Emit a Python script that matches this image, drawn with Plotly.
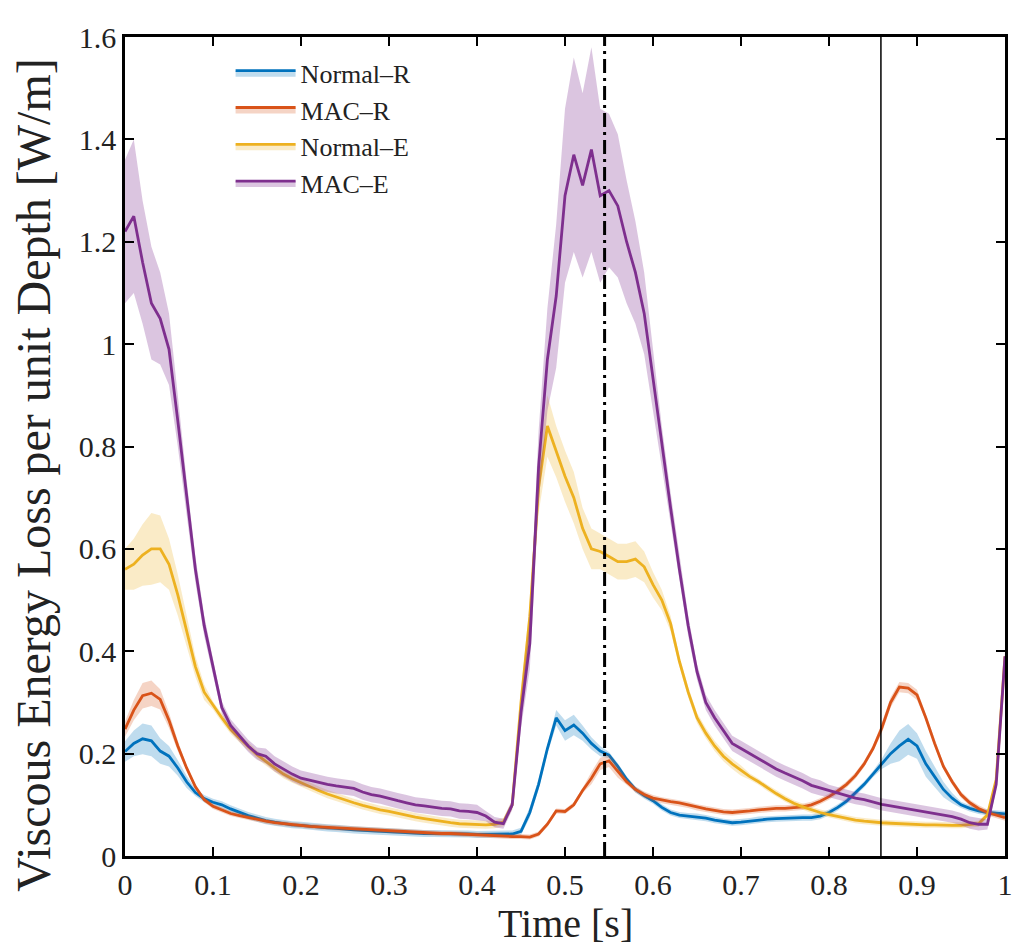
import plotly.graph_objects as go

# ---------------- data ----------------
TIME = [round(i * 0.01, 2) for i in range(101)]

SERIES_NAMES = ["Normal–R", "MAC–R", "Normal–E", "MAC–E"]

NORMAL_R = [
    0.204, 0.220, 0.229, 0.225, 0.205, 0.195, 0.172, 0.145, 0.124, 0.112,
    0.105, 0.100, 0.092, 0.085, 0.079, 0.074, 0.069, 0.066, 0.063, 0.061,
    0.060, 0.058, 0.056, 0.055, 0.054, 0.052, 0.051, 0.050, 0.049, 0.048,
    0.047, 0.046, 0.046, 0.045, 0.044, 0.044, 0.044, 0.043, 0.043, 0.043,
    0.042, 0.042, 0.042, 0.042, 0.043, 0.048, 0.085, 0.140, 0.210, 0.270,
    0.245, 0.256, 0.240, 0.220, 0.205, 0.197, 0.175, 0.150, 0.130, 0.118,
    0.108, 0.095, 0.085, 0.080, 0.078, 0.077, 0.074, 0.070, 0.067, 0.065,
    0.066, 0.068, 0.071, 0.072, 0.073, 0.074, 0.075, 0.075, 0.075, 0.078,
    0.085, 0.095, 0.107, 0.123, 0.140, 0.160, 0.180, 0.200, 0.215, 0.228,
    0.215, 0.180, 0.155, 0.130, 0.113, 0.100, 0.093, 0.088, 0.085, 0.083,
    0.082,
]
NORMAL_R_SD = [
    0.020, 0.025, 0.030, 0.030, 0.025, 0.020, 0.015, 0.012, 0.007, 0.007,
    0.007, 0.007, 0.007, 0.007, 0.007, 0.007, 0.007, 0.007, 0.007, 0.007,
    0.007, 0.007, 0.007, 0.007, 0.007, 0.007, 0.007, 0.007, 0.007, 0.007,
    0.007, 0.007, 0.007, 0.007, 0.007, 0.007, 0.007, 0.007, 0.007, 0.007,
    0.007, 0.007, 0.007, 0.007, 0.007, 0.007, 0.010, 0.010, 0.010, 0.015,
    0.020, 0.020, 0.015, 0.012, 0.010, 0.006, 0.006, 0.006, 0.006, 0.006,
    0.006, 0.006, 0.006, 0.006, 0.006, 0.006, 0.006, 0.006, 0.006, 0.006,
    0.006, 0.006, 0.006, 0.006, 0.006, 0.006, 0.006, 0.006, 0.006, 0.006,
    0.006, 0.006, 0.006, 0.006, 0.006, 0.006, 0.010, 0.020, 0.030, 0.030,
    0.025, 0.025, 0.020, 0.015, 0.010, 0.006, 0.006, 0.006, 0.006, 0.006,
    0.006,
]

MAC_R = [
    0.248, 0.285, 0.313, 0.318, 0.306, 0.265, 0.215, 0.172, 0.135, 0.110,
    0.097, 0.090, 0.083, 0.079, 0.075, 0.071, 0.068, 0.065, 0.063, 0.061,
    0.060, 0.058, 0.057, 0.056, 0.055, 0.054, 0.053, 0.052, 0.051, 0.050,
    0.050, 0.049, 0.048, 0.047, 0.046, 0.045, 0.044, 0.044, 0.043, 0.042,
    0.041, 0.040, 0.039, 0.039, 0.038, 0.038, 0.037, 0.043, 0.062, 0.088,
    0.087, 0.100, 0.128, 0.152, 0.180, 0.186, 0.165, 0.145, 0.130, 0.120,
    0.113, 0.109, 0.106, 0.104, 0.100, 0.095, 0.092, 0.089, 0.086, 0.085,
    0.086, 0.088, 0.090, 0.092, 0.093, 0.093, 0.094, 0.096, 0.100, 0.107,
    0.116, 0.127, 0.140, 0.157, 0.180, 0.210, 0.250, 0.300, 0.330, 0.328,
    0.315, 0.270, 0.220, 0.175, 0.145, 0.120, 0.104, 0.093, 0.085, 0.080,
    0.075,
]
MAC_R_SD = [
    0.015, 0.020, 0.025, 0.025, 0.020, 0.015, 0.010, 0.005, 0.005, 0.005,
    0.005, 0.005, 0.005, 0.005, 0.005, 0.005, 0.005, 0.005, 0.005, 0.005,
    0.005, 0.005, 0.005, 0.005, 0.005, 0.005, 0.005, 0.005, 0.005, 0.005,
    0.005, 0.005, 0.005, 0.005, 0.005, 0.005, 0.005, 0.005, 0.005, 0.005,
    0.005, 0.005, 0.005, 0.005, 0.005, 0.005, 0.005, 0.005, 0.005, 0.005,
    0.005, 0.005, 0.005, 0.012, 0.012, 0.012, 0.012, 0.006, 0.006, 0.006,
    0.006, 0.006, 0.006, 0.006, 0.006, 0.006, 0.006, 0.006, 0.006, 0.006,
    0.006, 0.006, 0.006, 0.006, 0.006, 0.006, 0.006, 0.006, 0.006, 0.006,
    0.006, 0.006, 0.006, 0.006, 0.006, 0.006, 0.010, 0.010, 0.010, 0.010,
    0.010, 0.006, 0.006, 0.006, 0.006, 0.006, 0.006, 0.006, 0.006, 0.006,
    0.006,
]

NORMAL_E = [
    0.560, 0.570, 0.588, 0.600, 0.600, 0.570, 0.510, 0.440, 0.370, 0.320,
    0.294, 0.270, 0.247, 0.230, 0.213, 0.198, 0.185, 0.172, 0.160, 0.151,
    0.143, 0.135, 0.128, 0.121, 0.115, 0.109, 0.104, 0.099, 0.094, 0.090,
    0.087, 0.083, 0.080, 0.076, 0.073, 0.070, 0.067, 0.065, 0.063, 0.062,
    0.061, 0.061, 0.062, 0.066, 0.100, 0.300, 0.467, 0.720, 0.840, 0.790,
    0.742, 0.700, 0.640, 0.600, 0.595, 0.585, 0.575, 0.575, 0.580, 0.565,
    0.530, 0.500, 0.454, 0.380, 0.320, 0.270, 0.240, 0.215, 0.195, 0.180,
    0.167, 0.155, 0.145, 0.133, 0.122, 0.112, 0.103, 0.096, 0.090, 0.085,
    0.081, 0.077, 0.073, 0.070, 0.068, 0.066, 0.065, 0.064, 0.063, 0.062,
    0.062, 0.061, 0.061, 0.060, 0.060, 0.060, 0.061, 0.063, 0.080, 0.150,
    0.390,
]
NORMAL_E_SD = [
    0.040, 0.050, 0.060, 0.070, 0.065, 0.050, 0.040, 0.030, 0.020, 0.015,
    0.008, 0.008, 0.008, 0.008, 0.008, 0.008, 0.008, 0.008, 0.008, 0.008,
    0.008, 0.008, 0.008, 0.008, 0.008, 0.008, 0.008, 0.008, 0.008, 0.008,
    0.008, 0.008, 0.008, 0.008, 0.008, 0.008, 0.008, 0.008, 0.008, 0.008,
    0.008, 0.008, 0.008, 0.008, 0.008, 0.020, 0.030, 0.050, 0.060, 0.050,
    0.050, 0.050, 0.040, 0.040, 0.035, 0.035, 0.035, 0.035, 0.035, 0.030,
    0.025, 0.020, 0.015, 0.010, 0.010, 0.010, 0.010, 0.010, 0.010, 0.010,
    0.010, 0.006, 0.006, 0.006, 0.006, 0.006, 0.006, 0.006, 0.006, 0.006,
    0.006, 0.006, 0.006, 0.006, 0.006, 0.006, 0.006, 0.006, 0.006, 0.006,
    0.006, 0.006, 0.006, 0.006, 0.006, 0.006, 0.006, 0.006, 0.006, 0.006,
    0.006,
]

MAC_E = [
    1.220, 1.250, 1.160, 1.080, 1.050, 0.990, 0.850, 0.700, 0.560, 0.450,
    0.370, 0.290, 0.255, 0.236, 0.215, 0.200, 0.195, 0.180, 0.170, 0.160,
    0.152, 0.148, 0.143, 0.140, 0.137, 0.135, 0.132, 0.125, 0.120, 0.117,
    0.112, 0.108, 0.104, 0.100, 0.098, 0.095, 0.093, 0.092, 0.088, 0.087,
    0.085, 0.078, 0.066, 0.063, 0.100, 0.280, 0.415, 0.760, 0.970, 1.094,
    1.290, 1.370, 1.310, 1.380, 1.290, 1.300, 1.270, 1.200, 1.140, 1.060,
    0.930, 0.800, 0.680, 0.560, 0.450, 0.360, 0.300, 0.270, 0.245, 0.220,
    0.210, 0.200, 0.190, 0.180, 0.170, 0.162, 0.155, 0.147, 0.138, 0.133,
    0.127, 0.122, 0.117, 0.113, 0.110, 0.105, 0.101, 0.098, 0.095, 0.092,
    0.089, 0.086, 0.083, 0.080, 0.077, 0.072, 0.065, 0.062, 0.062, 0.140,
    0.390,
]
MAC_E_SD = [
    0.140, 0.150, 0.120, 0.110, 0.090, 0.070, 0.050, 0.035, 0.025, 0.020,
    0.015, 0.012, 0.012, 0.012, 0.012, 0.012, 0.015, 0.015, 0.015, 0.015,
    0.015, 0.015, 0.015, 0.015, 0.015, 0.015, 0.015, 0.015, 0.015, 0.015,
    0.015, 0.015, 0.015, 0.015, 0.015, 0.015, 0.015, 0.015, 0.015, 0.015,
    0.015, 0.010, 0.010, 0.010, 0.010, 0.030, 0.050, 0.070, 0.100, 0.140,
    0.170, 0.190, 0.180, 0.200, 0.170, 0.150, 0.140, 0.120, 0.100, 0.080,
    0.060, 0.040, 0.030, 0.025, 0.020, 0.015, 0.015, 0.015, 0.015, 0.015,
    0.015, 0.015, 0.015, 0.015, 0.015, 0.015, 0.015, 0.015, 0.015, 0.015,
    0.012, 0.012, 0.012, 0.012, 0.012, 0.012, 0.012, 0.012, 0.012, 0.012,
    0.012, 0.012, 0.012, 0.012, 0.012, 0.012, 0.012, 0.012, 0.010, 0.010,
    0.010,
]

EVENT_DASHDOT = 0.545
EVENT_SOLID = 0.859

X_TICKS = [0, 0.1, 0.2, 0.3, 0.4, 0.5, 0.6, 0.7, 0.8, 0.9, 1.0]
X_TICK_LABELS = ["0", "0.1", "0.2", "0.3", "0.4", "0.5", "0.6", "0.7", "0.8", "0.9", "1"]
Y_TICKS = [0, 0.2, 0.4, 0.6, 0.8, 1.0, 1.2, 1.4, 1.6]
Y_TICK_LABELS = ["0", "0.2", "0.4", "0.6", "0.8", "1", "1.2", "1.4", "1.6"]

X_TITLE = "Time [s]"
Y_TITLE = "Viscous Energy Loss per unit Depth [W/m]"

# ---------------- styles ----------------
LINE_COLORS = ["#0072BD", "#D95319", "#EDB120", "#7E2F8E"]
BAND_COLORS = ["rgba(0,114,189,0.25)", "rgba(217,83,25,0.25)",
               "rgba(237,177,32,0.25)", "rgba(126,47,142,0.28)"]
FONT = "Liberation Serif, DejaVu Serif, serif"

MEANS = [NORMAL_R, MAC_R, NORMAL_E, MAC_E]
SDS = [NORMAL_R_SD, MAC_R_SD, NORMAL_E_SD, MAC_E_SD]

fig = go.Figure()
for name, mean, sd, lc, bc in zip(SERIES_NAMES, MEANS, SDS, LINE_COLORS, BAND_COLORS):
    lower = [m - s for m, s in zip(mean, sd)]
    upper = [m + s for m, s in zip(mean, sd)]
    fig.add_trace(go.Scatter(x=TIME, y=lower, mode="lines", line=dict(width=0, color=bc),
                             showlegend=False, hoverinfo="skip", legendgroup=name))
    fig.add_trace(go.Scatter(x=TIME, y=mean, mode="lines", name=name, legendgroup=name,
                             line=dict(color=lc, width=2.8), fill="tonexty", fillcolor=bc))
    fig.add_trace(go.Scatter(x=TIME, y=upper, mode="lines", line=dict(width=0, color=bc),
                             fill="tonexty", fillcolor=bc, showlegend=False,
                             hoverinfo="skip", legendgroup=name))

fig.add_shape(type="line", xref="x", yref="paper", x0=EVENT_DASHDOT, x1=EVENT_DASHDOT,
              y0=0, y1=1, line=dict(color="black", width=3, dash="14px,5px,3px,5px"),
              layer="above")
fig.add_shape(type="line", xref="x", yref="paper", x0=EVENT_SOLID, x1=EVENT_SOLID,
              y0=0, y1=1, line=dict(color="black", width=1.5), layer="above")

axis_common = dict(showline=True, linecolor="black", linewidth=2.5, mirror="ticks",
                   ticks="inside", ticklen=9, tickwidth=2, tickcolor="black",
                   showgrid=False, zeroline=False, ticklabeloverflow="allow",
                   tickfont=dict(family=FONT, size=30, color="#222"))

fig.update_xaxes(range=[0, 1], tickvals=X_TICKS, ticktext=X_TICK_LABELS, **axis_common)
fig.update_yaxes(range=[0, 1.6], tickvals=Y_TICKS, ticktext=Y_TICK_LABELS, **axis_common)

fig.add_annotation(text=X_TITLE, xref="paper", yref="paper", x=0.5, y=-0.083,
                   xanchor="center", yanchor="middle", showarrow=False,
                   font=dict(family=FONT, size=40, color="#222"))
fig.add_annotation(text=Y_TITLE, xref="paper", yref="paper", x=-0.104, y=0.465,
                   xanchor="center", yanchor="middle", showarrow=False, textangle=-90,
                   font=dict(family=FONT, size=48, color="#222"))

# the page body has an 8px margin, so the figure is 8px smaller on each axis
fig.update_layout(
    width=1018, height=943,
    margin=dict(l=117, r=21, t=16, b=95),
    plot_bgcolor="white", paper_bgcolor="white",
    legend=dict(x=0.12, y=0.985, xanchor="left", yanchor="top",
                bgcolor="rgba(0,0,0,0)", itemwidth=60,
                font=dict(family=FONT, size=26, color="#222"),
                tracegroupgap=0),
)

fig.write_html("out.html")
